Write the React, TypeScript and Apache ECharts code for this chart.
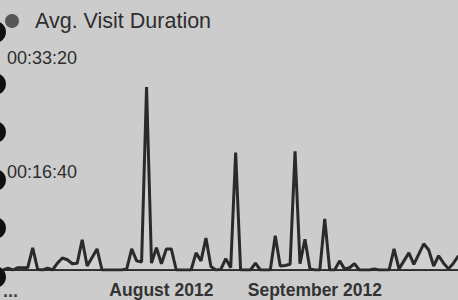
import React, { useEffect, useRef } from "react";
import * as echarts from "echarts";

// Avg. visit duration in seconds, daily from 30 Jun 2012
const startDate = "2012-06-30";
const durationSeconds = [
  0, 15, 0, 20, 20, 20, 195, 5, 0, 15,
  0, 60, 105, 90, 55, 60, 265, 35, 110, 185,
  0, 0, 0, 0, 0, 10, 185, 80, 70, 1605,
  60, 195, 55, 185, 185, 0, 0, 0, 0, 150,
  80, 280, 30, 0, 5, 100, 20, 1031, 0, 0,
  0, 60, 0, 0, 0, 300, 35, 40, 50, 1040,
  55, 270, 10, 0, 0, 449, 0, 0, 80, 10,
  20, 55, 0, 0, 0, 8, 0, 0, 0, 185,
  10, 80, 150, 50, 140, 230, 175, 35, 125, 60,
  10, 60, 125,
];
const monthNames = ["January", "February", "March", "April", "May", "June", "July", "August", "September", "October", "November", "December"];
const monthTickLabels = ["August 2012", "September 2012"];
const yTicks = [0, 1000, 2000];
const seriesName = "Avg. Visit Duration";

function buildDates(): string[] {
  const out: string[] = [];
  const d0 = new Date(startDate + "T00:00:00Z");
  for (let i = 0; i < durationSeconds.length; i++) {
    const d = new Date(d0.getTime() + i * 86400000);
    out.push(d.toISOString().slice(0, 10));
  }
  return out;
}

function monthLabel(val: string): string {
  return `${monthNames[parseInt(val.slice(5, 7), 10) - 1]} ${val.slice(0, 4)}`;
}

function fmtDuration(v: number): string {
  const h = Math.floor(v / 3600);
  const m = Math.floor((v % 3600) / 60);
  const s = Math.round(v % 60);
  const p = (n: number) => String(n).padStart(2, "0");
  return `${p(h)}:${p(m)}:${p(s)}`;
}

const FONT = "'Liberation Sans', Arial, sans-serif";

export default function App() {
  const ref = useRef<HTMLDivElement>(null);
  useEffect(() => {
    if (!ref.current) return;
    const chart = echarts.init(ref.current, null, { renderer: "svg" });
    const dates = buildDates();
    const holes = [32, 84, 132, 180, 228, 277];
    chart.setOption({
      animation: false,
      backgroundColor: "#cccccc",
      textStyle: { fontFamily: FONT },
      legend: {
        data: [seriesName],
        left: 5,
        top: 10,
        padding: 0,
        icon: "circle",
        itemWidth: 14,
        itemHeight: 14,
        itemGap: 0,
        itemStyle: { color: "#565656" },
        textStyle: { fontSize: 21.5, color: "#2e2e2e", fontFamily: FONT, padding: [0, 0, 0, 11] },
      },
      grid: { left: 3, width: 455.4, top: 42, bottom: 30, containLabel: false, outerBoundsMode: "none" },
      xAxis: {
        type: "category",
        boundaryGap: false,
        data: dates,
        axisLine: { show: true, lineStyle: { color: "#2a2a2a", width: 2 } },
        axisTick: { show: false },
        splitLine: { show: false },
        axisLabel: {
          interval: (idx: number, val: string) => val.slice(8, 10) === "01" && monthTickLabels.includes(monthLabel(val)),
          formatter: (val: string) => monthLabel(val),
          fontSize: 17.5,
          fontWeight: "bold",
          color: "#333",
          margin: 11,
          fontFamily: FONT,
        },
      },
      yAxis: {
        type: "value",
        min: yTicks[0],
        max: yTicks[yTicks.length - 1],
        interval: yTicks[1] - yTicks[0],
        axisLine: { show: false },
        axisTick: { show: false },
        splitLine: { show: false },
        axisLabel: {
          inside: true,
          margin: 4,
          verticalAlign: "top",
          padding: [7, 0, 0, 0],
          fontSize: 18,
          color: "#2e2e2e",
          fontFamily: FONT,
          formatter: (v: number) => (v === 0 ? "" : fmtDuration(v)),
        },
      },
      series: [
        {
          name: seriesName,
          type: "line",
          data: durationSeconds,
          symbol: "none",
          lineStyle: { color: "#2a2a2a", width: 3 },
          itemStyle: { color: "#2a2a2a" },
          areaStyle: { color: "rgba(255,255,255,0.12)" },
        },
      ],
      graphic: [
        ...holes.map((cy) => ({
          type: "circle",
          shape: { cx: -5, cy, r: 11 },
          style: { fill: "#111" },
          z: 100,
        })),
        {
          type: "text",
          left: 3,
          top: 282,
          style: { text: "...", fontSize: 18, fontWeight: "bold", fill: "#444", fontFamily: FONT },
        },
      ],
    });
    return () => chart.dispose();
  }, []);
  return <div ref={ref} style={{ position: "fixed", left: 0, top: 0, width: 458, height: 300 }} />;
}
